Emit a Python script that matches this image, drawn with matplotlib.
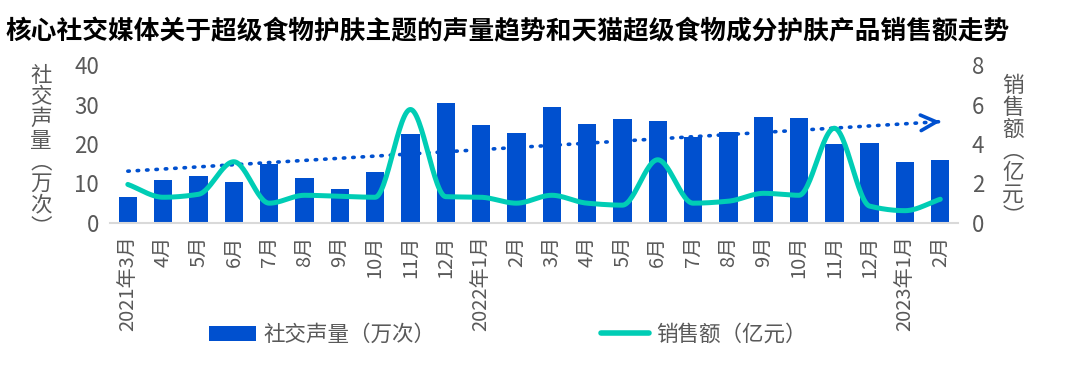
import numpy as np
import matplotlib
matplotlib.use("Agg")
import matplotlib.pyplot as plt
from matplotlib.patches import Patch
from matplotlib.lines import Line2D

plt.rcParams['font.family'] = ['Noto Sans CJK SC', 'DejaVu Sans']

title = "核心社交媒体关于超级食物护肤主题的声量趋势和天猫超级食物成分护肤产品销售额走势"
months = ["2021年3月", "4月", "5月", "6月", "7月", "8月", "9月", "10月", "11月", "12月",
          "2022年1月", "2月", "3月", "4月", "5月", "6月", "7月", "8月", "9月", "10月",
          "11月", "12月", "2023年1月", "2月"]
volume = [6.5, 11, 12, 10.3, 15, 11.5, 8.7, 13, 22.5, 30.5, 24.8, 22.8,
          29.5, 25, 26.3, 25.8, 21.8, 23, 26.8, 26.7, 20, 20.3, 15.5, 16]
sales = [1.95, 1.3, 1.45, 3.1, 1.0, 1.4, 1.35, 1.3, 5.75, 1.33, 1.3, 1.0,
         1.4, 1.0, 0.9, 3.2, 1.0, 1.1, 1.5, 1.4, 4.8, 0.85, 0.62, 1.2]
left_label = "社交声量︵万次︶"
right_label = "销售额︵亿元︶"
legend_bar = "社交声量（万次）"
legend_line = "销售额（亿元）"

BLUE = "#0050CF"
TEAL = "#00CDB5"
GREY = "#595959"

fig = plt.figure(figsize=(10.8, 3.74), dpi=100)
ax = fig.add_axes([0.102, 0.404, 0.785, 0.422])
ax2 = ax.twinx()

x = np.arange(len(months))
ax.bar(x, volume, width=0.52, color=BLUE, zorder=2)

# linear trendline of the volume series
k, b = np.polyfit(x, volume, 1)
xt = np.array([x[0], x[-1]])
yt = k * xt + b
ax.plot(xt, yt, color=BLUE, lw=2.6, linestyle=(0, (0.4, 2.2)),
        dash_capstyle='round', zorder=3)
ax.annotate('', xy=(xt[1], yt[1]), xytext=(xt[1] - 0.05, yt[1] - 0.05 * k),
            arrowprops=dict(arrowstyle='->', color=BLUE, lw=2.6,
                            mutation_scale=28, shrinkA=0, shrinkB=0),
            zorder=3)

# smoothed drawing of the sales line (monotone cubic, no overshoot)
def smooth(xs, ys, n=30):
    xs = np.asarray(xs, float); ys = np.asarray(ys, float)
    h = np.diff(xs)
    dlt = np.diff(ys) / h
    m = np.zeros_like(ys)
    m[0], m[-1] = dlt[0], dlt[-1]
    for i in range(1, len(ys) - 1):
        if dlt[i - 1] * dlt[i] <= 0:
            m[i] = 0.0
        else:
            w1 = 2 * h[i] + h[i - 1]
            w2 = h[i] + 2 * h[i - 1]
            m[i] = (w1 + w2) / (w1 / dlt[i - 1] + w2 / dlt[i])
    ox, oy = [], []
    t = np.linspace(0, 1, n)
    for i in range(len(xs) - 1):
        h00 = 2 * t**3 - 3 * t**2 + 1
        h10 = t**3 - 2 * t**2 + t
        h01 = -2 * t**3 + 3 * t**2
        h11 = t**3 - t**2
        yy = h00 * ys[i] + h10 * h[i] * m[i] + h01 * ys[i + 1] + h11 * h[i] * m[i + 1]
        xx = xs[i] + t * h[i]
        if i > 0:
            xx, yy = xx[1:], yy[1:]
        ox.append(xx); oy.append(yy)
    return np.concatenate(ox), np.concatenate(oy)

sx, sy = smooth(x, sales)
ax2.plot(sx, sy, color=TEAL, lw=3.6, solid_capstyle='round',
         solid_joinstyle='round', zorder=4)

ax.set_xlim(-0.5, len(months) - 0.5)
ax.set_ylim(0, 40)
ax2.set_ylim(0, 8)
ax.set_yticks([0, 10, 20, 30, 40])
ax2.set_yticks([0, 2, 4, 6, 8])
ax.set_xticks(x)
ax.set_xticklabels(months, rotation=90, va='top', ha='center', fontsize=14.5, color=GREY)
ax.tick_params(axis='x', length=0, pad=9)
ax.tick_params(axis='y', length=0, labelsize=16, labelcolor=GREY, pad=8)
ax2.tick_params(axis='y', length=0, labelsize=16, labelcolor=GREY, pad=10)
for a in (ax, ax2):
    for s in ('top', 'left', 'right', 'bottom'):
        a.spines[s].set_visible(False)
ax.spines['bottom'].set_visible(True)
ax.spines['bottom'].set_color('#D9D9D9')
ax.spines['bottom'].set_linewidth(1.5)
ax2.patch.set_visible(False)

fig.text(0.005, 0.915, title, fontsize=18.5, fontweight='bold', color='black',
         ha='left', va='center')
fig.text(0.038, 0.595, "\n".join(left_label), fontsize=15.5, color=GREY,
         ha='center', va='center', linespacing=0.98)
fig.text(0.938, 0.595, "\n".join(right_label), fontsize=15.5, color=GREY,
         ha='center', va='center', linespacing=0.98)

handles = [Patch(facecolor=BLUE, edgecolor='none'),
           Line2D([0], [0], color=TEAL, lw=4, solid_capstyle='round')]
fig.legend(handles, [legend_bar, legend_line], loc='center',
           bbox_to_anchor=(0.47, 0.105), ncol=2, frameon=False,
           fontsize=15.5, labelcolor=GREY, handlelength=2.2, handleheight=0.7,
           handletextpad=0.35, columnspacing=7.7)

fig.savefig("out.png", dpi=100)
